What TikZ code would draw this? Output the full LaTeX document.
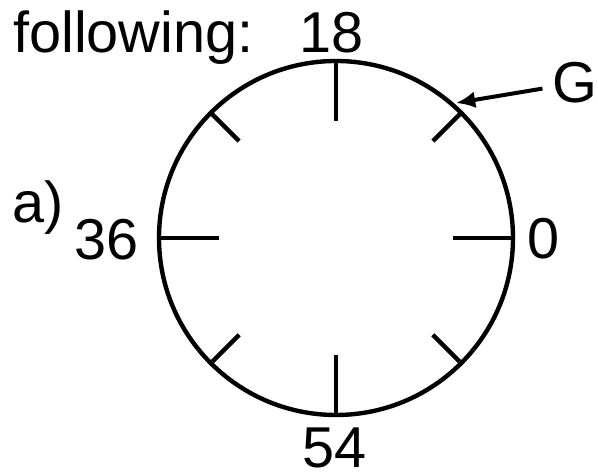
\documentclass[tikz,border=0pt]{standalone}
\usepackage{fontspec}
\setmainfont{Liberation Sans}
\usetikzlibrary{arrows.meta, positioning}
\begin{document}
\begin{tikzpicture}[
    rim/.style={circle, draw=black, line width=0.11cm, inner sep=0pt, minimum size=8.85cm},
    tickline/.style={black, line width=0.11cm},
    lbl/.style={font=\fontsize{41}{49}\selectfont, inner sep=0pt, anchor=base},
    arr/.style={-{Latex[length=4.8mm, width=4.2mm]}, line width=0.1cm, shorten <=0.25cm}
  ]
  \useasboundingbox (-8.4,-5.95) rectangle (6.55,5.95);
  \node[rim] (dial) at (0,0) {};
  % ticks
  \foreach \a in {0,90,180,270}
    \draw[tickline] (\a:2.925) -- (dial.\a);
  \foreach \a in {45,135,225,315}
    \draw[tickline] (\a:3.425) -- (dial.\a);
  % labels
  \node[lbl, anchor=base west] (following) at (-8.075,4.625) {following:};
  \node[lbl] (n18) at (-0.1,4.625) {18};
  \node[lbl] (n0) at (5.19,-0.525) {0};
  \node[lbl] (n36) at (-5.74,-0.55) {36};
  \node[lbl] (n54) at (-0.025,-5.75) {54};
  \node[lbl, anchor=base west] (part) at (-8.1,0.375) {a)};
  \node[lbl] (G) at (5.975,3.375) {G};
  \coordinate (gpt) at (3.0,3.375);
  \draw[arr] (G) -- (gpt);
\end{tikzpicture}
\end{document}
